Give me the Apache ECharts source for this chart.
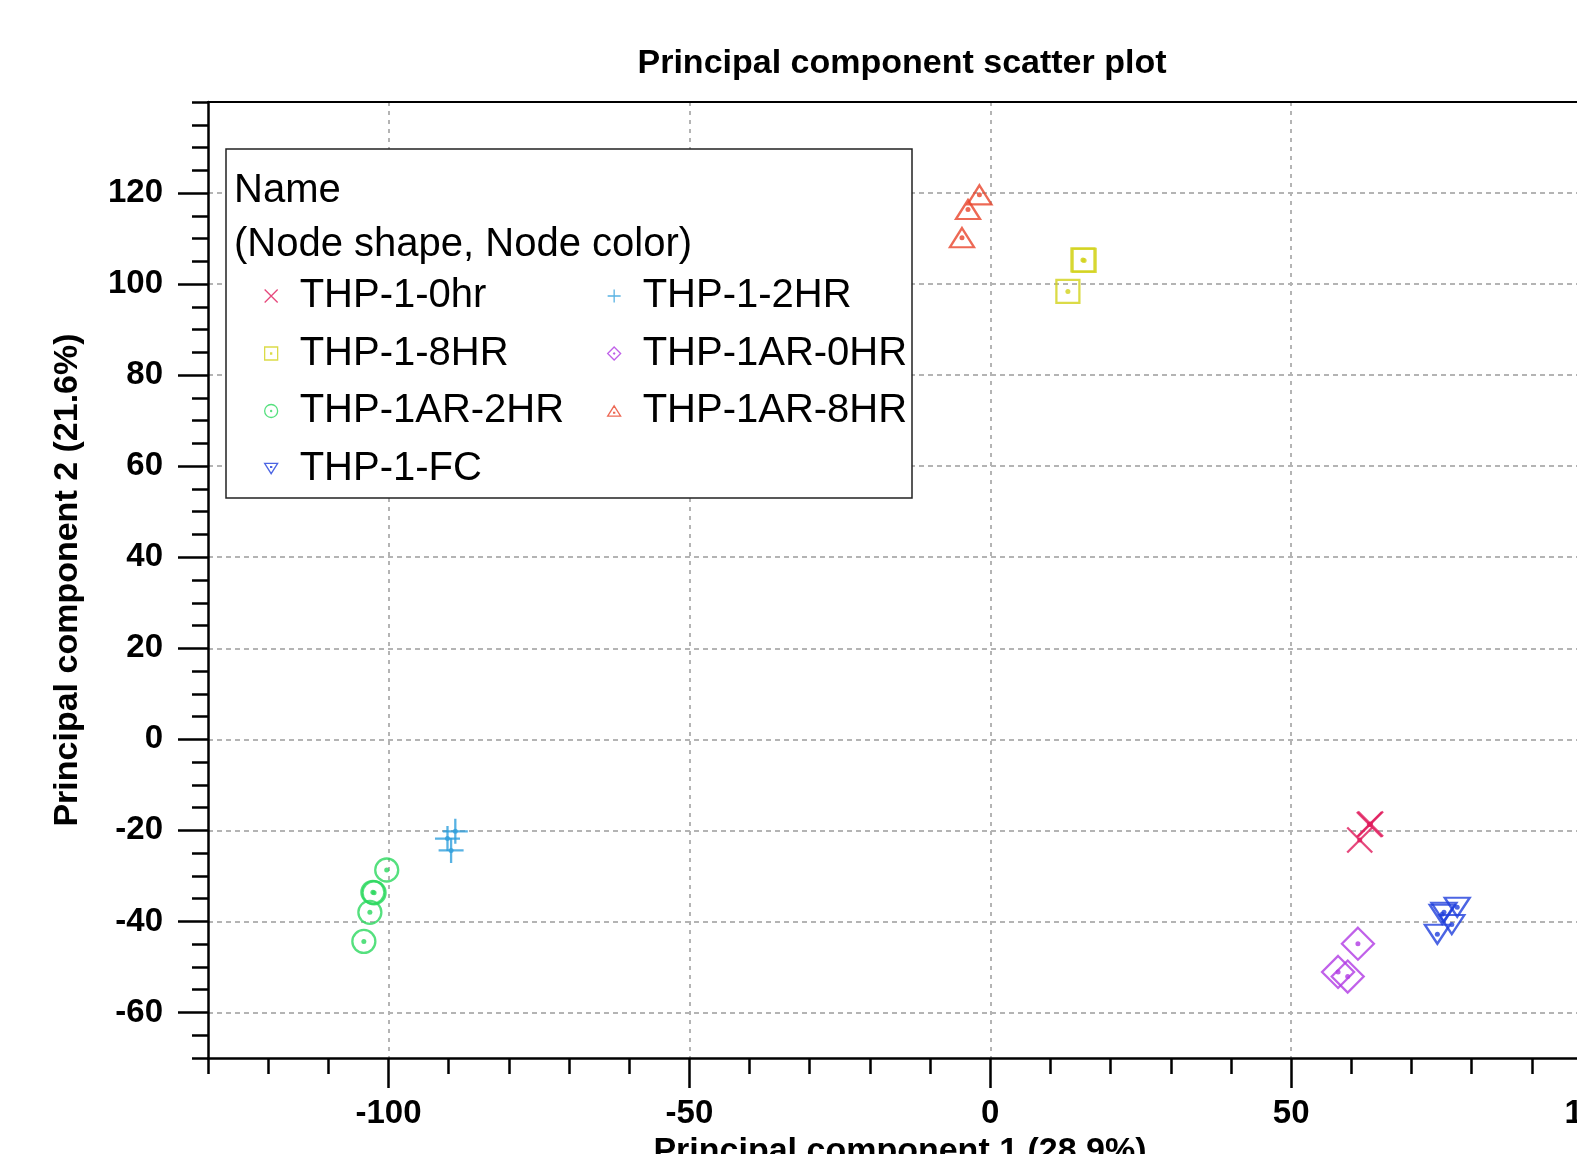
<!DOCTYPE html>
<html>
<head>
<meta charset="utf-8">
<script src="https://cdn.jsdelivr.net/npm/echarts@6/dist/echarts.min.js"></script>
<style>
html,body{margin:0;padding:0;background:#fff;}
#chart{width:1577px;height:1154px;}
</style>
</head>
<body>
<div id="chart"></div>
<script>
// ---- data ----
const categories = ['THP-1-0hr','THP-1-2HR','THP-1-8HR','THP-1AR-0HR','THP-1AR-2HR','THP-1AR-8HR','THP-1-FC'];
const thp1_0hr   = [[63.0,-18.7],[63.2,-18.6],[61.4,-22.1]];
const thp1_2hr   = [[-88.9,-20.2],[-90.2,-21.8],[-89.6,-24.4]];
const thp1_8hr   = [[15.4,105.3],[15.6,105.2],[12.9,98.4]];
const thp1ar_0hr = [[61.1,-44.9],[57.8,-51.1],[59.4,-52.1]];
const thp1ar_2hr = [[-100.3,-28.7],[-102.6,-33.6],[-102.4,-33.7],[-103.1,-38.0],[-104.1,-44.4]];
const thp1ar_8hr = [[-1.8,119.6],[-3.7,116.4],[-4.7,110.2]];
const thp1_fc    = [[77.6,-36.9],[75.1,-38.4],[75.4,-38.0],[76.7,-40.7],[74.3,-42.8]];
const xTicks = [-100,-50,0,50,100];
const yTicks = [-60,-40,-20,0,20,40,60,80,100,120];
const titleText = 'Principal component scatter plot';
const xName = 'Principal component 1 (28.9%)';
const yName = 'Principal component 2 (21.6%)';

// ---- styles ----
const seriesData = [thp1_0hr, thp1_2hr, thp1_8hr, thp1ar_0hr, thp1ar_2hr, thp1ar_8hr, thp1_fc];
const colors = ['#e01a5b','#2e9fdc','#d2d219','#b03ae4','#2bd85e','#e8432b','#1f3fdc'];
const symbols = [
  'path://M0,0L10,10M10,0L0,10',
  'path://M5,0L5,10M0,5L10,5',
  'rect',
  'diamond',
  'circle',
  'path://M10,0L20,16L0,16Z',
  'path://M0,0L20,0L10,16Z'
];
const legendIcons = [
  'path://M0,0L10,10M10,0L0,10',
  'path://M5,0L5,10M0,5L10,5',
  'path://M0,0H10V10H0Z M4.6,4.6H5.4V5.4H4.6Z',
  'path://M5,0L10,5L5,10L0,5Z M4.6,5L5,4.6L5.4,5L5,5.4Z',
  'path://M0,5A5,5 0 1,1 10,5A5,5 0 1,1 0,5Z M4.6,5A0.4,0.4 0 1,1 5.4,5A0.4,0.4 0 1,1 4.6,5Z',
  'path://M5,0L10,8L0,8Z M4.6,5H5.4V5.6H4.6Z',
  'path://M0,0L10,0L5,8Z M4.6,2.6H5.4V3.2H4.6Z'
];
const sizes = [25, 25, 23, 32, 23, [24,19], [25,19]];

const FONT = 'Liberation Sans, Arial, Helvetica, sans-serif';

const series = [];
categories.forEach((name, i) => {
  series.push({
    name: name,
    type: 'scatter',
    data: seriesData[i],
    symbol: symbols[i],
    symbolSize: sizes[i],
    itemStyle: { color: 'rgba(0,0,0,0)', borderColor: colors[i], borderWidth: 2.3 },
    emphasis: { disabled: true },
    z: 3
  });
});
categories.forEach((name, i) => {
  series.push({
    name: name + ' center',
    type: 'scatter',
    data: seriesData[i],
    symbol: 'circle',
    symbolSize: 5,
    itemStyle: { color: colors[i] },
    emphasis: { disabled: true },
    silent: true,
    z: 4
  });
});

const legendItem = i => ({ name: categories[i], icon: legendIcons[i] });

const legendCommon = {
  orient: 'vertical',
  top: 271,
  itemWidth: 13,
  itemHeight: 13,
  itemGap: 17.5,
  selectedMode: false,
  symbolKeepAspect: true,
  textStyle: { fontFamily: FONT, fontSize: 40, color: '#000', lineHeight: 40, padding: [0, 0, 0, 17] },
  itemStyle: { borderWidth: 1.3 },
  z: 6
};

const axisNameStyle = { fontFamily: FONT, fontSize: 34, fontWeight: 'bold', color: '#000' };
const tickLabelStyle = { fontFamily: FONT, fontSize: 33, fontWeight: 'bold', color: '#000' };

const chart = echarts.init(document.getElementById('chart'), null, { renderer: 'canvas' });
chart.setOption({
  animation: false,
  backgroundColor: '#fff',
  grid: { left: 208, top: 102, width: 1384, height: 956, containLabel: false, outerBoundsMode: 'none' },
  xAxis: [
    {
      type: 'value', position: 'bottom', min: -130, max: 100,
      name: xName, nameLocation: 'middle', nameGap: 70,
      nameTextStyle: axisNameStyle,
      axisLine: { show: true, onZero: false, lineStyle: { color: '#000', width: 2.5 } },
      axisTick: { show: true, customValues: xTicks, length: 30, lineStyle: { color: '#000', width: 2.5 } },
      axisLabel: Object.assign({ show: true, customValues: xTicks, margin: 39 }, tickLabelStyle),
      splitLine: { show: true, lineStyle: { color: '#b4b4b4', width: 2, type: [4, 5] } }
    },
    {
      type: 'value', position: 'bottom', min: -130, max: 100, interval: 10,
      axisLine: { show: false, onZero: false },
      axisTick: { show: true, length: 16, lineStyle: { color: '#000', width: 2.5 } },
      axisLabel: { show: false },
      splitLine: { show: false }
    },
    {
      type: 'value', position: 'top', min: -130, max: 100,
      axisLine: { show: true, onZero: false, lineStyle: { color: '#000', width: 2 } },
      axisTick: { show: false }, axisLabel: { show: false }, splitLine: { show: false }
    }
  ],
  yAxis: [
    {
      type: 'value', position: 'left', min: -70, max: 140,
      name: yName, nameLocation: 'middle', nameGap: 123, nameRotate: 90,
      nameTextStyle: axisNameStyle,
      axisLine: { show: true, onZero: false, lineStyle: { color: '#000', width: 2.5 } },
      axisTick: { show: true, customValues: yTicks, length: 30, lineStyle: { color: '#000', width: 2.5 } },
      axisLabel: Object.assign({ show: true, customValues: yTicks, margin: 45, padding: [9, 0, 0, 0] }, tickLabelStyle),
      splitLine: { show: true, lineStyle: { color: '#b4b4b4', width: 2, type: [5, 4] } }
    },
    {
      type: 'value', position: 'left', min: -70, max: 140, interval: 5,
      axisLine: { show: false, onZero: false },
      axisTick: { show: true, length: 16, lineStyle: { color: '#000', width: 2.5 } },
      axisLabel: { show: false },
      splitLine: { show: false }
    },
    {
      type: 'value', position: 'right', min: -70, max: 140,
      axisLine: { show: true, onZero: false, lineStyle: { color: '#000', width: 2 } },
      axisTick: { show: false }, axisLabel: { show: false }, splitLine: { show: false }
    }
  ],
  legend: [
    Object.assign({}, legendCommon, { left: 259, data: [legendItem(0), legendItem(2), legendItem(4), legendItem(6)] }),
    Object.assign({}, legendCommon, { left: 602, data: [legendItem(1), legendItem(3), legendItem(5)] })
  ],
  graphic: [
    {
      type: 'text', x: 902, y: 64, z: 10,
      style: { text: titleText, font: 'bold 34px ' + FONT, fill: '#000', textAlign: 'center', textVerticalAlign: 'middle', align: 'center', verticalAlign: 'middle' }
    },
    {
      type: 'rect', z: 5,
      shape: { x: 226, y: 149, width: 686, height: 349 },
      style: { fill: '#fff', stroke: '#222', lineWidth: 1.5 }
    },
    {
      type: 'text', x: 234, y: 191, z: 10,
      style: { text: 'Name', font: '40px ' + FONT, fill: '#000', textAlign: 'left', textVerticalAlign: 'middle', align: 'left', verticalAlign: 'middle' }
    },
    {
      type: 'text', x: 234, y: 245, z: 10,
      style: { text: '(Node shape, Node color)', font: '40px ' + FONT, fill: '#000', textAlign: 'left', textVerticalAlign: 'middle', align: 'left', verticalAlign: 'middle' }
    }
  ],
  series: series
});
</script>
</body>
</html>
